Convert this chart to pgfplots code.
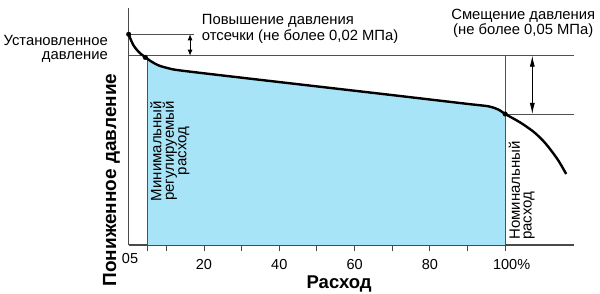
\documentclass[border=0pt]{standalone}
\usepackage{pgfplots}
\pgfplotsset{compat=1.18}
\usepackage{fontspec}
\setmainfont{Liberation Sans}
\usetikzlibrary{arrows.meta}
\definecolor{fillblue}{HTML}{A8E4F8}
\definecolor{axgray}{HTML}{4A4A4A}
\definecolor{lngray}{HTML}{505050}
\newcommand{\ann}{\fontsize{14.8}{16}\selectfont}
\newcommand{\annr}{\fontsize{15}{16}\selectfont}
\begin{document}
\begin{tikzpicture}
\begin{axis}[
  at={(128.7pt,49pt)}, anchor=south west,
  scale only axis, width=445.4pt, height=237pt,
  xmin=0, xmax=118.3, ymin=0, ymax=237,
  axis lines=left, axis line style={-, axgray, line width=1.3pt},
  clip=false,
  ytick=\empty,
  xtick={20,40,60,80,100},
  xticklabels={20,40,60,80,\phantom{\%}100\%},
  minor xtick={5,10,30,50,70,90},
  extra x ticks={0.35}, extra x tick labels={05},
  extra x tick style={major tick length=0pt},
  tick align=outside,
  major tick length=6.5pt, minor tick length=6.5pt,
  every tick/.style={axgray, line width=1pt},
  tick label style={font=\fontsize{14.5}{15}\selectfont, inner sep=0pt},
  xticklabel style={anchor=base, yshift=-18.3pt},
]
% fill under the curve between minimal and nominal flow
\addplot[fill=fillblue, draw=none, smooth] coordinates {
 (5,186.2) (6,183.5) (8,179.5) (10.5,176.8) (13.6,174.6) (30,167.3) (50,158.6) (70,149.9) (90,141.1)
 (95,139) (97,137.2) (98.5,134.8) (100,131)
} \closedcycle;
% vertical limit lines
\addplot[lngray, line width=0.9pt] coordinates {(5,0) (5,186.2)};
\addplot[lngray, line width=0.9pt] coordinates {(100,0) (100,189.3)};
% horizontal reference lines
\addplot[lngray, line width=0.9pt] coordinates {(0,210.7) (17.4,210.7)};
\addplot[lngray, line width=0.9pt] coordinates {(0,189.3) (118.3,189.3)};
\addplot[lngray, line width=0.9pt] coordinates {(100,131) (118.3,131)};
% arrows
\addplot[black, line width=0.8pt, {Latex[length=6pt,width=5pt]}-{Latex[length=6pt,width=5pt]}] coordinates {(16.3,210.7) (16.3,189.3)};
\addplot[black, line width=0.8pt, {Latex[length=11pt,width=5pt]}-{Latex[length=11pt,width=5pt]}] coordinates {(107.2,189.3) (107.2,131)};
% main curve
\addplot[black, line width=2.4pt, smooth] coordinates {
 (0,210.7) (0.6,205) (1.3,199.5) (2.2,195) (3.2,191.2) (4.5,187.5) (6,183.5) (8,179.5) (10.5,176.8) (13.6,174.6)
 (30,167.3) (50,158.6) (70,149.9) (90,141.1) (95,139) (97,137.2) (98.5,134.8) (100,131)
 (104,122.5) (107.5,113.3) (110,104.5) (112,95.5) (114.2,84) (116.2,71)
};
% points
\addplot[only marks, mark=*, mark size=2.3pt, black] coordinates {(0,210.7) (4.4,187.6) (100,131)};
% texts
\node[anchor=base east, inner sep=0pt, font=\ann] at (axis cs:-5.47,199.3) {Установленное};
\node[anchor=base east, inner sep=0pt, font=\ann] at (axis cs:-5.47,185.6) {давление};
\node[anchor=base west, inner sep=0pt, font=\ann] at (axis cs:19.4,220) {Повышение давления};
\node[anchor=base west, inner sep=0pt, font=\ann] at (axis cs:19.4,204) {отсечки (не более 0,02 МПа)};
\node[anchor=base, inner sep=0pt, font=\ann] at (axis cs:104.8,225.5) {Смещение давления};
\node[anchor=base, inner sep=0pt, font=\ann] at (axis cs:104.8,210.5) {(не более 0,05 МПа)};
\node[anchor=base, rotate=90, inner sep=0pt, font=\annr] at (axis cs:8.71,94) {Минимальный};
\node[anchor=base, rotate=90, inner sep=0pt, font=\annr] at (axis cs:12.03,94) {регулируемый};
\node[anchor=base, rotate=90, inner sep=0pt, font=\annr] at (axis cs:15.35,94) {расход};
\node[anchor=base west, rotate=90, inner sep=0pt, font=\annr] at (axis cs:103.9,5) {Номинальный};
\node[anchor=base west, rotate=90, inner sep=0pt, font=\annr] at (axis cs:107.0,5) {расход};
\node[anchor=base, rotate=90, inner sep=0pt, font=\bfseries\fontsize{19}{20}\selectfont] at (axis cs:-3.37,65) {Пониженное давление};
\node[anchor=base, inner sep=0pt, font=\bfseries\fontsize{18.5}{20}\selectfont] at (axis cs:55.9,-43.3) {Расход};
\end{axis}
\pgfresetboundingbox
\path (0,0) rectangle (600pt,294pt);
\end{tikzpicture}
\end{document}
